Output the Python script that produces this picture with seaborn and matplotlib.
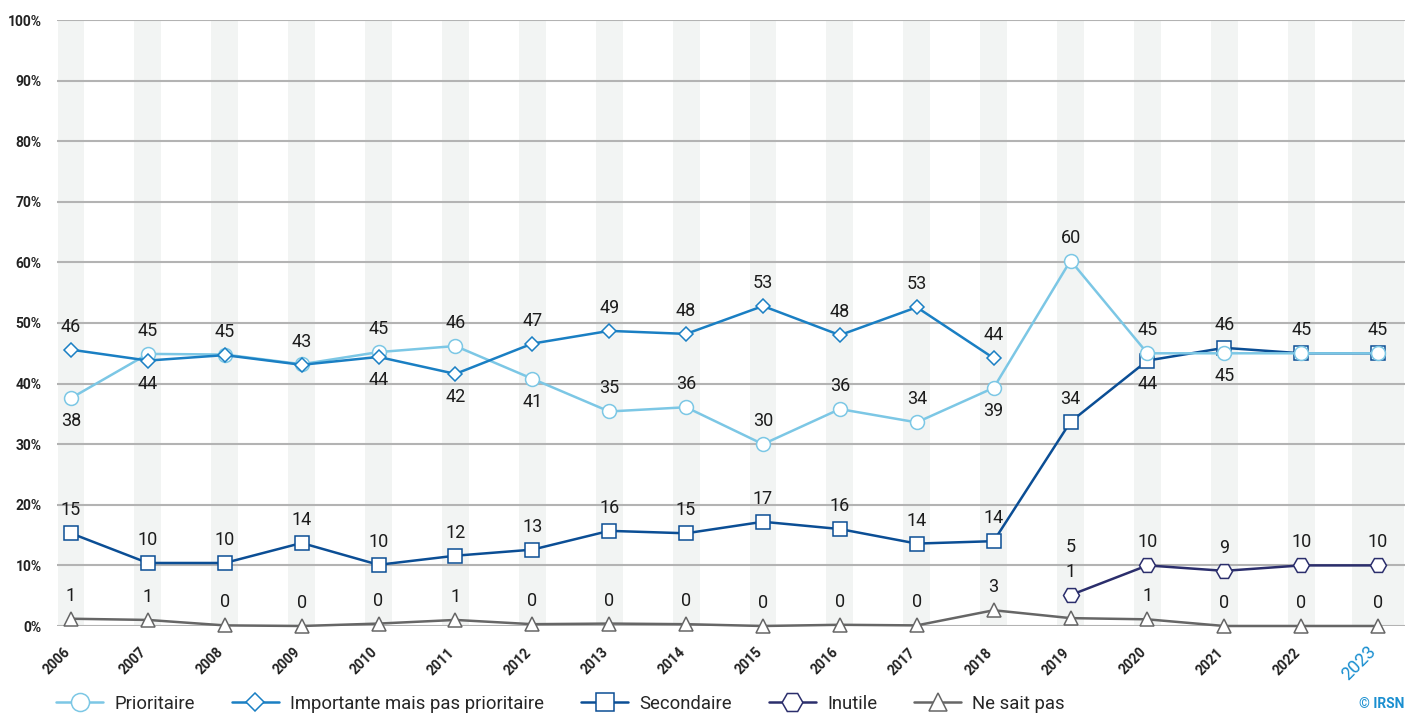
import numpy as np
import seaborn as sns
import matplotlib.pyplot as plt

# ——— data ———
years = list(range(2006, 2024))
nan = np.nan

prioritaire = [37.6, 44.9, 44.8, 43.2, 45.2, 46.2, 40.8, 35.4, 36.1, 30.0,
               35.8, 33.6, 39.3, 60.3, 45.0, 45.0, 45.0, 45.0]
importante = [45.6, 43.8, 44.7, 43.1, 44.4, 41.6, 46.6, 48.7, 48.2, 52.8,
              48.0, 52.6, 44.2, nan, nan, nan, nan, nan]
secondaire = [15.3, 10.4, 10.4, 13.7, 10.1, 11.6, 12.6, 15.7, 15.3, 17.2,
              16.0, 13.6, 14.0, 33.7, 43.8, 45.9, 45.0, 45.0]
inutile = [nan, nan, nan, nan, nan, nan, nan, nan, nan, nan,
           nan, nan, nan, 5.1, 10.0, 9.1, 10.0, 10.0]
ne_sait_pas = [1.2, 1.0, 0.1, 0.0, 0.4, 1.0, 0.3, 0.4, 0.3, 0.0,
               0.2, 0.1, 2.6, 1.3, 1.1, 0.0, 0.0, 0.0]

series_names = ["Prioritaire", "Importante mais pas prioritaire", "Secondaire",
                "Inutile", "Ne sait pas"]
series_values = [prioritaire, importante, secondaire, inutile, ne_sait_pas]
colors = ["#7cc7e5", "#1a7fc3", "#0b4e95", "#2b2e6c", "#666666"]
markers = ["o", "D", "s", "H", "^"]
marker_sizes = [10, 7.4, 10, 11.5, 10]
zorders = [4.5, 4.8, 4.2, 4.1, 4.0]

sns.set_style("white")
plt.rcParams['font.family'] = ['Roboto', 'DejaVu Sans']

fig = plt.figure(figsize=(14.16, 7.15), dpi=100)
ax = fig.add_axes([57 / 1416, 1 - 626 / 715, (1405 - 57) / 1416, (626 - 20) / 715])

# light column bands behind each year
for yr in years:
    half = 0.34 if yr == years[-1] else 0.175
    ax.axvspan(yr - half, yr + half, color="#f2f4f3", zorder=0, lw=0)

for i, (name, vals) in enumerate(zip(series_names, series_values)):
    sns.lineplot(x=years, y=vals, ax=ax, color=colors[i], lw=1.8,
                 marker=markers[i], markersize=marker_sizes[i],
                 markerfacecolor="white", markeredgecolor=colors[i],
                 markeredgewidth=1.1, clip_on=False, zorder=zorders[i],
                 label=name, legend=False)

# ——— value labels ———
off = 3.8
for j, yr in enumerate(years):
    vals = [(series_values[i][j], i) for i in range(len(series_values))
            if not np.isnan(series_values[i][j])]
    above, below = [], []
    for v, i in vals:
        lab = int(round(v))
        higher = [w for w, k in vals if k != i and 0 < w - v < 10 and int(round(w)) != lab]
        if higher and v > 10:
            below.append((v, i))
        else:
            above.append((v, i))
    last_pos = -99
    placed = []
    for v, i in sorted(above):
        lab = int(round(v))
        if any(p[0] == lab and abs(p[1] - v) < 2 for p in placed):
            continue
        pos = v + off
        for w, k in vals:
            if k != i and w > v and abs(w - pos) < 2.5:
                pos = w + off
        if pos < last_pos + 4.2:
            pos = last_pos + 4.2
        ax.text(yr, pos, str(lab), ha="center", va="center", fontsize=13,
                color="#1c1c1c", zorder=10)
        placed.append((lab, v))
        last_pos = pos
    for v, i in below:
        ax.text(yr, v - off, str(int(round(v))), ha="center", va="center",
                fontsize=13, color="#1c1c1c", zorder=10)

# ——— axes styling ———
ax.set_xlim(years[0] - 0.182, years[-1] + 0.35)
ax.set_ylim(0, 100)
ax.set_yticks(range(0, 101, 10))
ax.set_yticklabels([f"{t}%" for t in range(0, 101, 10)], fontsize=10,
                   fontweight="bold", color="#222222")
ax.grid(axis="y", color="#b3b3b3", lw=1.5, zorder=1)
ax.set_axisbelow(True)
for s in ax.spines.values():
    s.set_visible(False)
ax.set_xticks(years)
ax.set_xticklabels([])
ax.tick_params(axis="y", length=0, pad=11)
ax.tick_params(axis="x", length=0)

# rotated year labels, last year highlighted
for yr in years:
    if yr == years[-1]:
        ax.annotate(str(yr), xy=(yr, 0), xytext=(-14, -27), textcoords="offset points",
                    ha="center", va="center", rotation=45, fontsize=13,
                    color="#1a8fd0", annotation_clip=False)
    else:
        ax.annotate(str(yr), xy=(yr, 0), xytext=(-10.5, -25.5), textcoords="offset points",
                    ha="center", va="center", rotation=45, fontsize=10,
                    fontweight="bold", color="#222222", annotation_clip=False)
ax.set_xlabel("")
ax.set_ylabel("")

handles, labels = ax.get_legend_handles_labels()
fig.legend(handles, labels, loc="center left", bbox_to_anchor=(0.028, 0.016),
           ncol=5, frameon=False, fontsize=13.3, handlelength=2.55,
           columnspacing=2.0, handletextpad=0.6, markerscale=1.3)

fig.text(0.992, 0.016, "© IRSN", ha="right", va="center", fontsize=10,
         fontweight="bold", color="#1a8fd0")

plt.savefig("out.png", dpi=100)
